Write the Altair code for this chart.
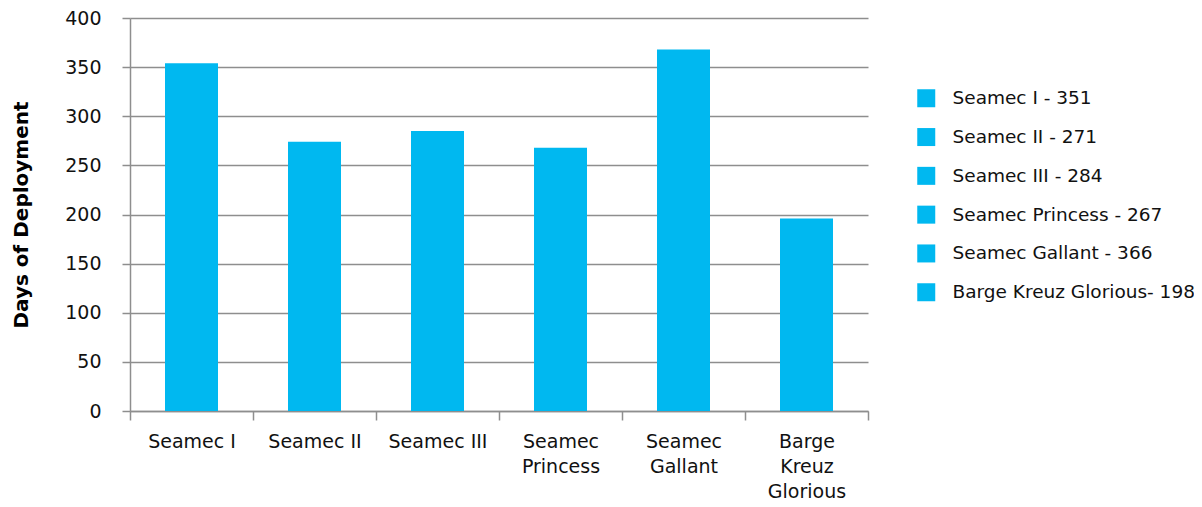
import altair as alt
import pandas as pd

categories = ["Seamec I", "Seamec II", "Seamec III", "Seamec Princess", "Seamec Gallant", "Barge Kreuz Glorious"]
tick_lines = [["Seamec I"], ["Seamec II"], ["Seamec III"], ["Seamec", "Princess"], ["Seamec", "Gallant"], ["Barge", "Kreuz", "Glorious"]]
days = [354, 274, 285, 268, 368, 196]
legend_labels = ["Seamec I - 351", "Seamec II - 271", "Seamec III - 284", "Seamec Princess - 267",
                 "Seamec Gallant - 366", "Barge Kreuz Glorious- 198"]
y_ticks = [0, 50, 100, 150, 200, 250, 300, 350, 400]

BAR = "#00B8F0"
GRID = "#8E8E8E"
FONT = "DejaVu Sans"

df = pd.DataFrame({"ship": categories, "days": days, "legend": legend_labels})

expr = "''"
for c, lines in reversed(list(zip(categories, tick_lines))):
    arr = "[" + ",".join("'" + l + "'" for l in lines) + "]"
    expr = f"datum.value == '{c}' ? {arr} : ({expr})"

chart = alt.Chart(df).mark_bar(width=53).encode(
    x=alt.X("ship:N", sort=categories,
            scale=alt.Scale(paddingInner=0, paddingOuter=0),
            axis=alt.Axis(title=None, labelAngle=0, tickBand="extent", tickSize=9,
                          tickColor=GRID, tickWidth=1.5, domainColor=GRID, domainWidth=1.5,
                          labelFont=FONT, labelFontSize=19, labelColor="#111",
                          labelPadding=12, labelLineHeight=25, labelExpr=expr, grid=False)),
    y=alt.Y("days:Q", scale=alt.Scale(domain=[0, 400], nice=False),
            axis=alt.Axis(title="Days of Deployment", values=y_ticks, tickSize=8,
                          tickColor=GRID, tickWidth=1.5, domainColor=GRID, domainWidth=1.5,
                          gridColor=GRID, gridWidth=1.5, labelFont=FONT, labelFontSize=19,
                          labelColor="#111", labelPadding=21, titleFont=FONT, titleFontSize=20,
                          titleFontWeight="bold", titleColor="#000", titlePadding=33)),
    color=alt.Color("legend:N", sort=legend_labels,
                    scale=alt.Scale(domain=legend_labels, range=[BAR] * 6),
                    legend=alt.Legend(title=None, orient="none", legendX=787, legendY=71,
                                      symbolType="square", symbolSize=324, symbolStrokeWidth=0,
                                      symbolOpacity=1, labelFont=FONT, labelFontSize=18.5,
                                      labelColor="#111", labelOffset=17, rowPadding=19.8,
                                      padding=0, labelLimit=400)),
).properties(
    width=738, height=393,
    autosize=alt.AutoSizeParams(type="none"),
    padding={"left": 122, "top": 10, "right": 326, "bottom": 94},
).configure_view(stroke=None)

chart.save("out.html", embed_options={"renderer": "svg", "actions": False})
